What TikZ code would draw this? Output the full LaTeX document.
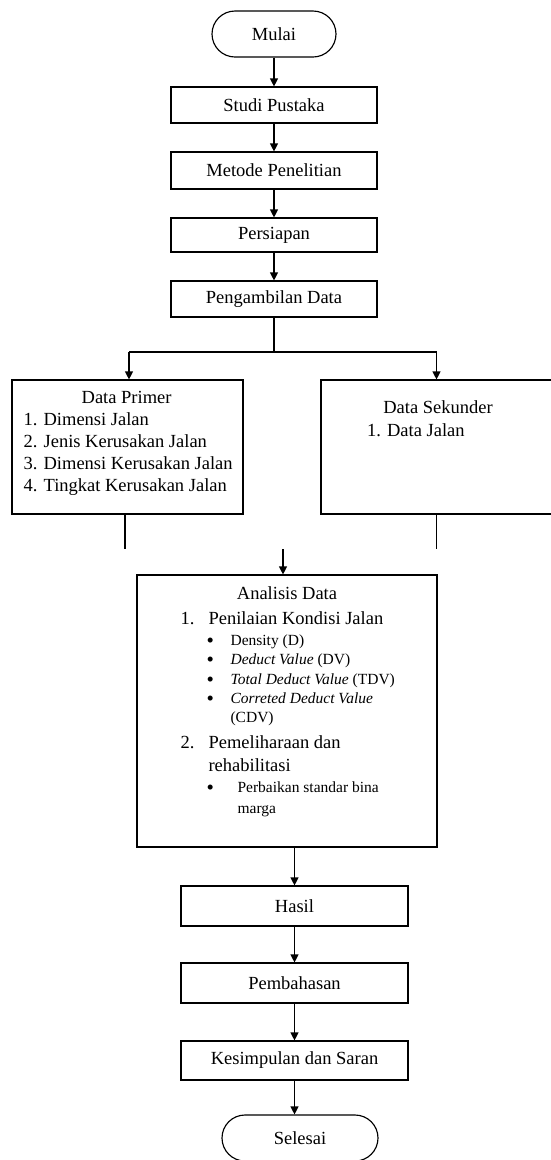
\documentclass[tikz,border=0pt]{standalone}
\usepackage{fontspec}
\setmainfont{Liberation Serif}
\usetikzlibrary{arrows.meta}

\begin{document}
\begin{tikzpicture}[x=1pt,y=-1pt,>={Triangle[length=8pt,width=8pt]},line width=1.15pt,
  font=\fontsize{18.5}{22}\selectfont,
  stepbox/.style={draw,inner sep=0pt,minimum width=206pt,minimum height=36pt},
  term/.style={draw,rounded corners=23pt,inner sep=0pt,minimum height=46pt},
  bigbox/.style={draw,inner sep=0pt},
  txt/.style={anchor=base west,inner sep=0pt},
  sml/.style={txt,font=\fontsize{15.5}{18}\selectfont},
  dot/.style={txt,font=\fontsize{21}{22}\selectfont,text height=9pt,text depth=0pt}]

\clip (0,0) rectangle (551,1160);

%============================== top: the preparation ==============================
\node[term,minimum width=124pt] (mulai) at (274,34) {Mulai};
\node[stepbox] (studi) at (274,105) {Studi Pustaka};
\node[stepbox,minimum height=37pt] (metode) at (274,170.5) {Metode Penelitian};
\node[stepbox,minimum height=34pt] (siap) at (274,235) {Persiapan};
\node[stepbox] (ambil) at (274,299) {Pengambilan Data};
\draw[->] (mulai) -- (studi); \draw[->] (studi) -- (metode);
\draw[->] (metode) -- (siap); \draw[->] (siap) -- (ambil);

%============================== middle: the data ==============================
\node[bigbox,minimum width=231pt,minimum height=134pt] (primer) at (127.5,447) {};
\node[anchor=base,inner sep=0pt] (p0) at (126.6,403) {Data Primer};
\foreach \i/\t in {1/Dimensi Jalan,2/Jenis Kerusakan Jalan,3/Dimensi Kerusakan Jalan,4/Tingkat Kerusakan Jalan}
  {\node[txt] (p\i) at (23,{403+22*\i}) {\i. \t};}

\node[bigbox,minimum width=231pt,minimum height=134pt] (sekunder) at (436.5,447) {};
\node[anchor=base,inner sep=0pt] (s0) at (438,413) {Data Sekunder};
\node[txt] (s1) at (366.5,436) {1. Data Jalan};

\coordinate (jl) at (129,352); \coordinate (jr) at (436.5,352);
\draw (ambil.south) -- (ambil.south |- jl);
\draw (jl) -- (jr);
\draw[->] (jl) -- (primer.north -| jl); \draw[->] (jr) -- (sekunder.north);

\coordinate (gap) at (0,549);
\draw ([xshift=-2.5pt]primer.south) -- ([xshift=-2.5pt]primer.south |- gap);
\draw (sekunder.south) -- (sekunder.south |- gap);

%============================== analysis ==============================
\node[bigbox,minimum width=300pt,minimum height=272pt] (analisis) at (287,711) {};
\draw[->] ([xshift=-4pt]analisis.north |- gap) -- ([xshift=-4pt]analisis.north);

\node[anchor=base,inner sep=0pt] (a0) at (287,599) {Analisis Data};
\node[txt] (a1n) at (180,624) {1.};
\node[txt] (a1) at (208,624) {Penilaian Kondisi Jalan};
\node[dot] (b1) at (206,647) {\textbullet}; \node[sml] (c1) at (230,645) {Density (D)};
\node[dot] (b2) at (206,666) {\textbullet}; \node[sml] (c2) at (230,664) {\textit{Deduct Value} (DV)};
\node[dot] (b3) at (206,686) {\textbullet}; \node[sml] (c3) at (230,684) {\textit{Total Deduct Value} (TDV)};
\node[dot] (b4) at (206,705) {\textbullet}; \node[sml] (c4) at (230,703) {\textit{Correted Deduct Value}};
\node[sml] (c5) at (230,722) {(CDV)};
\node[txt] (a2n) at (180,748) {2.};
\node[txt] (a2) at (208,748) {Pemeliharaan dan};
\node[txt] (a3) at (208,771) {rehabilitasi};
\node[dot] (b6) at (206,794) {\textbullet}; \node[sml] (c6) at (237,792) {Perbaikan standar bina};
\node[sml] (c7) at (237,813) {marga};

%============================== bottom: the results ==============================
\node[stepbox,minimum width=227pt,minimum height=40pt] (hasil) at (294.5,906) {Hasil};
\node[stepbox,minimum width=227pt,minimum height=40pt] (bahas) at (294.5,983) {Pembahasan};
\node[stepbox,minimum width=227pt,minimum height=39pt] (simpul) at (294.5,1060.5) {Kesimpulan dan Saran};
\node[term,minimum width=156pt] (selesai) at (300,1138) {Selesai};
\draw[->] (analisis.south -| hasil) -- (hasil);
\draw[->] (hasil) -- (bahas); \draw[->] (bahas) -- (simpul);
\draw[->] (simpul) -- (simpul.south |- selesai.north);
\end{tikzpicture}
\end{document}
